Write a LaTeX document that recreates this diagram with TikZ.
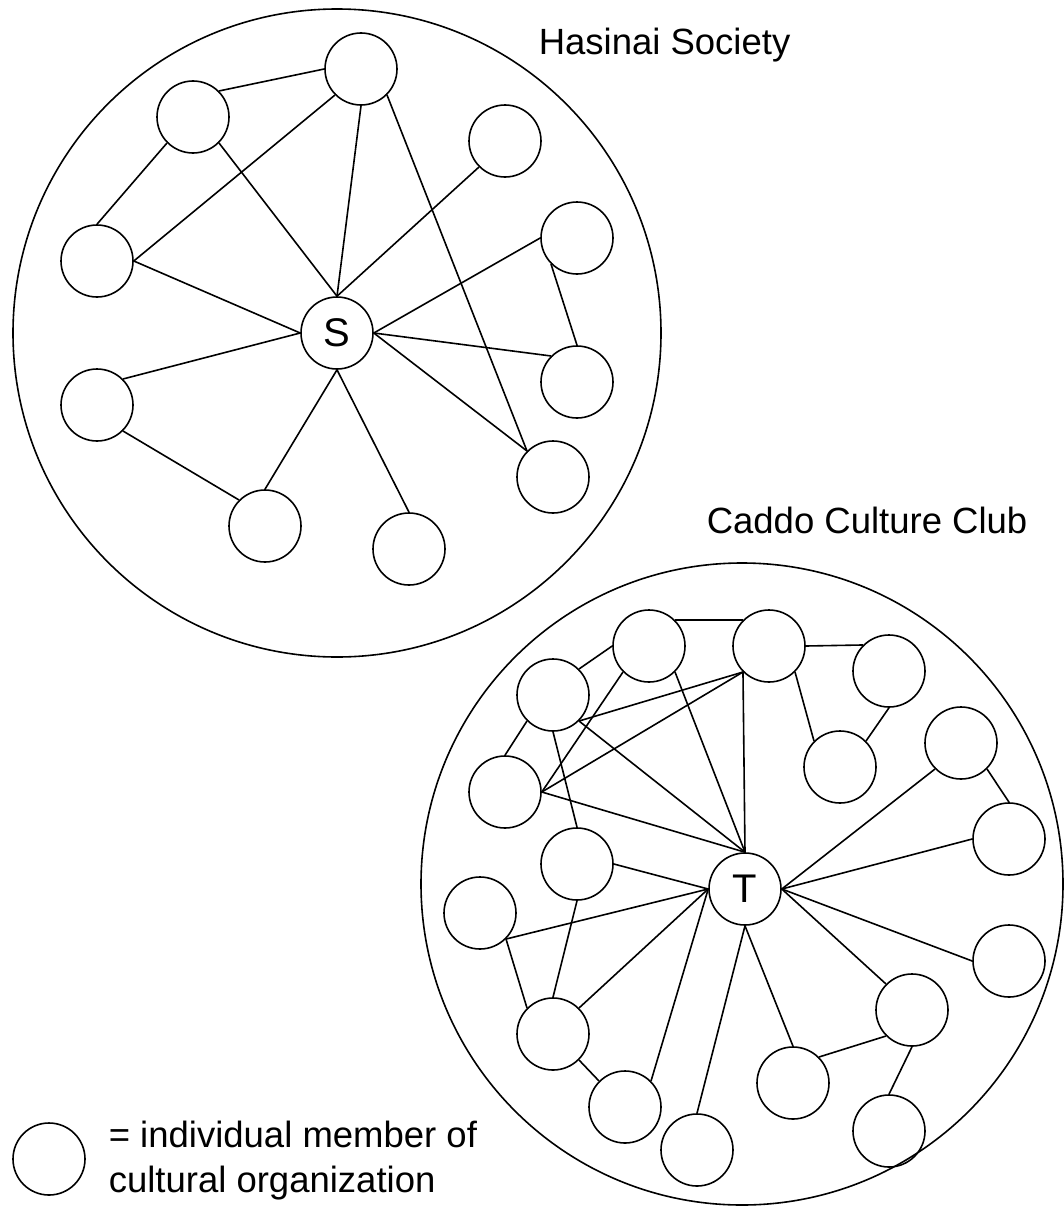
\documentclass[tikz,border=0pt]{standalone}
\usepackage{fontspec}
\setmainfont{Liberation Sans}
\begin{document}
\begin{tikzpicture}[x=1pt,y=-1pt,
  every path/.style={line width=1.6pt},
  member/.style={circle,draw,minimum size=72pt,inner sep=0pt,line width=1.6pt,
    font=\fontsize{40}{46}\selectfont},
  group/.style={circle,draw,inner sep=0pt,line width=1.6pt},
  label/.style={inner sep=0pt,anchor=base west,font=\fontsize{36.5}{44}\selectfont},
  link/.style={line width=1.6pt}]
\useasboundingbox (0,0) rectangle (1064,1207);

% ---- Hasinai Society ----
\node[group,minimum size=648pt] (hasinai) at (337,333) {};
\node[label] (hasinaiName) at (538,55) {Hasinai Society};
\node[member] (S) at (337,333) {S};
\node[member] (a1) at (361,69) {};
\node[member] (a2) at (193,117) {};
\node[member] (a3) at (505,141) {};
\node[member] (a4) at (97,261) {};
\node[member] (a5) at (577,238) {};
\node[member] (a6) at (577,382) {};
\node[member] (a7) at (97,405) {};
\node[member] (a8) at (553,477) {};
\node[member] (a9) at (265,526) {};
\node[member] (a10) at (409,549) {};

\draw[link] (a2.north east) -- (a1.west);
\draw[link] (a2.south west) -- (a4.north);
\draw[link] (a2.south east) -- (S.north);
\draw[link] (a1.south west) -- (a4.east);
\draw[link] (a1.south) -- (S.north);
\draw[link] (a1.south east) -- (a8.north west);
\draw[link] (a3.south west) -- (S.north);
\draw[link] (a5.west) -- (S.east);
\draw[link] (a5.south west) -- (a6.north);
\draw[link] (a4.east) -- (S.west);
\draw[link] (a7.north east) -- (S.west);
\draw[link] (a6.north west) -- (S.east);
\draw[link] (a8.north west) -- (S.east);
\draw[link] (a9.north) -- (S.south);
\draw[link] (a10.north) -- (S.south);
\draw[link] (a7.south east) -- (a9.north west);

% ---- Caddo Culture Club ----
\node[group,minimum size=642pt] (caddo) at (742,884) {};
\node[label] (caddoName) at (706,533) {Caddo Culture Club};
\node[member] (T) at (745,889) {T};
\node[member] (b1) at (649,646) {};
\node[member] (b2) at (769,646) {};
\node[member] (b3) at (889,671) {};
\node[member] (b4) at (553,695) {};
\node[member] (b5) at (840,767) {};
\node[member] (b6) at (961,743) {};
\node[member] (b7) at (505,792) {};
\node[member] (b8) at (1009,839) {};
\node[member] (b9) at (577,864) {};
\node[member] (b10) at (480,913) {};
\node[member] (b11) at (1009,961) {};
\node[member] (b12) at (912,1010) {};
\node[member] (b13) at (553,1034) {};
\node[member] (b14) at (793,1083) {};
\node[member] (b15) at (625,1107) {};
\node[member] (b16) at (889,1131) {};
\node[member] (b17) at (697,1150) {};

\draw[link] (b1.north east) -- (b2.north west);
\draw[link] (b2.east) -- (b3.north west);
\draw[link] (b4.north east) -- (b1.west);
\draw[link] (b1.south west) -- (b7.east);
\draw[link] (b1.south east) -- (T.north);
\draw[link] (b2.south west) -- (b4.south east);
\draw[link] (b2.south west) -- (b7.east);
\draw[link] (b2.south west) -- (T.north);
\draw[link] (b4.south east) -- (T.north);
\draw[link] (b4.south west) -- (b7.north);
\draw[link] (b4.south) -- (b9.north);
\draw[link] (b7.east) -- (T.north);
\draw[link] (b9.east) -- (T.west);
\draw[link] (b10.south east) -- (T.west);
\draw[link] (b10.south east) -- (b13.north west);
\draw[link] (b9.south) -- (b13.north);
\draw[link] (b13.north east) -- (T.west);
\draw[link] (b13.south east) -- (b15.north west);
\draw[link] (b15.north east) -- (T.west);
\draw[link] (b17.north) -- (T.south);
\draw[link] (b14.north) -- (T.south);
\draw[link] (b12.north west) -- (T.east);
\draw[link] (b11.west) -- (T.east);
\draw[link] (b8.west) -- (T.east);
\draw[link] (b6.south west) -- (T.east);
\draw[link] (b6.south east) -- (b8.north);
\draw[link] (b5.north east) -- (b3.south);
\draw[link] (b2.south east) -- (b5.north west);
\draw[link] (b12.south west) -- (b14.north east);
\draw[link] (b12.south) -- (b16.north);

% ---- legend ----
\node[member] (key) at (49,1159) {};
\node[label] (keyLine1) at (108,1147) {= individual member of};
\node[label] (keyLine2) at (108,1192) {cultural organization};
\end{tikzpicture}
\end{document}
